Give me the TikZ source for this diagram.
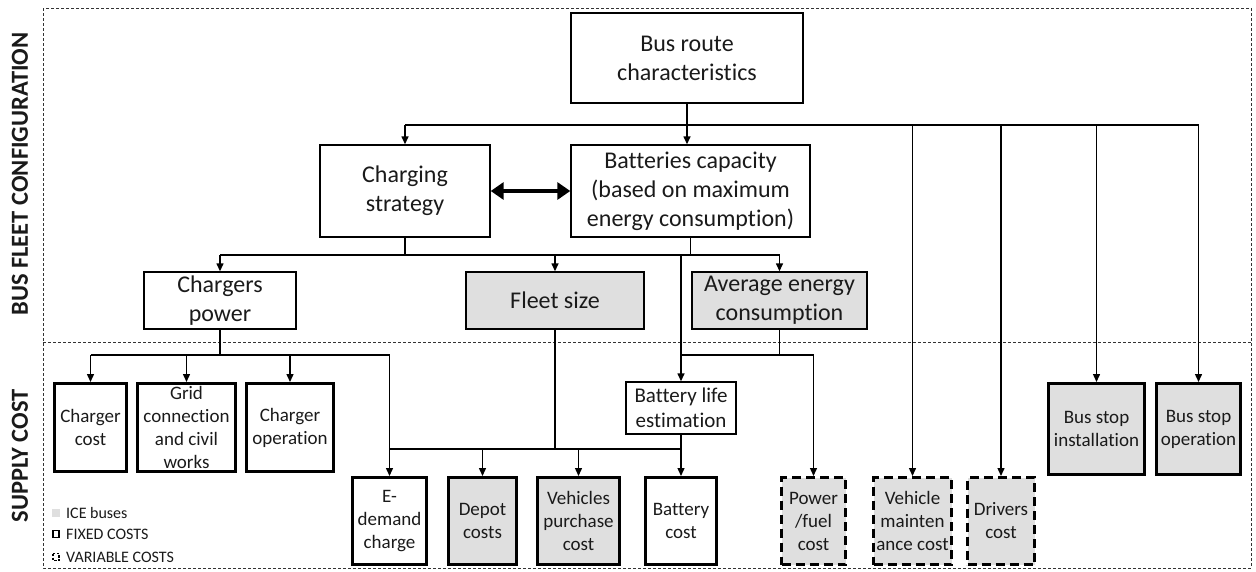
\documentclass[tikz,border=0pt]{standalone}
\usepackage{fontspec}
\setmainfont{Carlito}[Ligatures=NoCommon]
\usetikzlibrary{arrows.meta}
\definecolor{icegray}{HTML}{DFDFDF}
\definecolor{txt}{HTML}{1A1A1A}
\tikzset{
  topbox/.style={draw, line width=1.4pt, align=center, inner sep=0pt, text=txt,
    font=\fontsize{24}{29}\selectfont},
  costbox/.style={draw, line width=3pt, align=center, inner sep=0pt, text=txt,
    font=\fontsize{19}{23}\selectfont},
  varbox/.style={costbox, dash pattern=on 9pt off 5pt},
  ice/.style={fill=icegray},
  conn/.style={line width=1.4pt},
  arr/.style={conn, -{Triangle[length=8pt,width=7pt]}},
  frame/.style={line width=0.8pt, dash pattern=on 3pt off 2pt, draw=black!80},
  sectitle/.style={rotate=90, font=\fontsize{24.5}{28}\selectfont\bfseries, text=txt},
  legtext/.style={anchor=west, font=\fontsize{16}{19}\selectfont, text=txt, inner sep=0pt},
}
\begin{document}
\begin{tikzpicture}[x=1pt,y=-1pt]
\useasboundingbox (0,0) rectangle (1256,571);
% frames
\draw[frame] (43,8) rectangle (1251,568);
\draw[frame] (43,342) -- (1251,342);
\node[sectitle] (t1) at (20,174) {BUS FLEET CONFIGURATION};
\node[sectitle] (t2) at (20,456) {SUPPLY COST};

% top level
\node[topbox, minimum width=232pt, minimum height=90pt] (route) at (687,58) {Bus route\\characteristics};
\node[topbox, minimum width=170pt, minimum height=92pt] (charging) at (405,191) {Charging\\strategy};
\node[topbox, minimum width=239pt, minimum height=92pt] (batt) at (690.5,191) {Batteries capacity\\(based on maximum\\energy consumption)};
\node[topbox, minimum width=152pt, minimum height=57pt] (chpow) at (220,300.5) {Chargers\\power};
\node[topbox, ice, minimum width=178pt, minimum height=57pt] (fleet) at (555,300.5) {Fleet size};
\node[topbox, ice, minimum width=175pt, minimum height=57pt] (avg) at (779.5,300.5) {Average energy\\consumption};
\node[topbox, minimum width=110pt, minimum height=52pt, font=\fontsize{21}{25}\selectfont] (ble) at (681,408) {Battery life\\estimation};

% cost boxes
\node[costbox, minimum width=72pt, minimum height=88pt] (chcost) at (90.5,427.5) {Charger\\cost};
\node[costbox, minimum width=98pt, minimum height=88pt] (grid) at (186.5,427.5) {Grid\\connection\\and civil\\works};
\node[costbox, minimum width=87pt, minimum height=88pt] (chop) at (290,427.5) {Charger\\operation};
\node[costbox, minimum width=74pt, minimum height=87pt] (edem) at (389.5,521) {E-\\demand\\charge};
\node[costbox, ice, minimum width=68pt, minimum height=87pt] (depot) at (482.5,521) {Depot\\costs};
\node[costbox, ice, minimum width=82pt, minimum height=87pt] (veh) at (578.5,521) {Vehicles\\purchase\\cost};
\node[costbox, minimum width=71pt, minimum height=87pt] (batcost) at (681,521) {Battery\\cost};
\node[varbox, ice, minimum width=64pt, minimum height=87pt] (power) at (813.5,521) {Power\\/fuel\\cost};
\node[varbox, ice, minimum width=78pt, minimum height=87pt] (maint) at (912.5,521) {Vehicle\\mainten\\ance cost};
\node[varbox, ice, minimum width=67pt, minimum height=87pt] (drivers) at (1001,521) {Drivers\\cost};
\node[costbox, ice, minimum width=96pt, minimum height=91pt] (bsi) at (1096.5,429) {Bus stop\\installation};
\node[costbox, ice, minimum width=84pt, minimum height=91pt] (bso) at (1198.5,429) {Bus stop\\operation};

% junction coordinates
\coordinate (busA) at (687,125);
\coordinate (busB) at (0,255);
\coordinate (busC) at (0,355);
\coordinate (busD) at (0,449);

% from route
\draw[conn] (route.south) -- (busA);
\draw[conn] (charging.north |- busA) -- (bso.north |- busA);
\draw[arr] (charging.north |- busA) -- (charging.north);
\draw[arr] (busA) -- (busA |- batt.north);
\draw[arr] (maint.north |- busA) -- (maint.north);
\draw[arr] (drivers.north |- busA) -- (drivers.north);
\draw[arr] (bsi.north |- busA) -- (bsi.north);
\draw[arr] (bso.north |- busA) -- (bso.north);

% double arrow
\draw[line width=4.5pt, {Triangle[length=13pt,width=17pt]}-{Triangle[length=13pt,width=17pt]}] (charging.east) -- (charging.east -| batt.west);

% bus B
\draw[conn] (charging.south) -- (charging.south |- busB);
\draw[conn] (batt.south) -- (batt.south |- busB);
\draw[conn] (chpow.north |- busB) -- (avg.north |- busB);
\draw[arr] (chpow.north |- busB) -- (chpow.north);
\draw[arr] (fleet.north |- busB) -- (fleet.north);
\draw[arr] (avg.north |- busB) -- (avg.north);

% battery branch
\draw[conn] (ble.north |- busB) -- (ble.north |- busC);
\draw[conn] (ble.north |- busC) -- (power.north |- busC);
\draw[conn] (avg.south) -- (avg.south |- busC);
\draw[arr] (ble.north |- busC) -- (ble.north);
\draw[arr] (power.north |- busC) -- (power.north);

% chargers power branch
\draw[conn] (chpow.south) -- (chpow.south |- busC);
\draw[conn] (chcost.north |- busC) -- (edem.north |- busC);
\draw[arr] (chcost.north |- busC) -- (chcost.north);
\draw[arr] (grid.north |- busC) -- (grid.north);
\draw[arr] (chop.north |- busC) -- (chop.north);
\draw[arr] (edem.north |- busC) -- (edem.north);

% bus D
\draw[conn] (edem.north |- busD) -- (batcost.north |- busD);
\draw[conn] (fleet.south) -- (fleet.south |- busD);
\draw[arr] (ble.south) -- (batcost.north);
\draw[arr] (depot.north |- busD) -- (depot.north);
\draw[arr] (veh.north |- busD) -- (veh.north);

% legend
\fill[icegray] (52,509) rectangle (60,517);
\node[legtext] (l1) at (66,513) {ICE buses};
\draw[line width=1.6pt] (53,530.5) rectangle (59,537.5);
\node[legtext] (l2) at (66,534) {FIXED COSTS};
\draw[line width=1.4pt, dash pattern=on 2.5pt off 1.5pt] (53,553.5) rectangle (59,560.5);
\node[legtext] (l3) at (66,557) {VARIABLE COSTS};
\end{tikzpicture}
\end{document}
